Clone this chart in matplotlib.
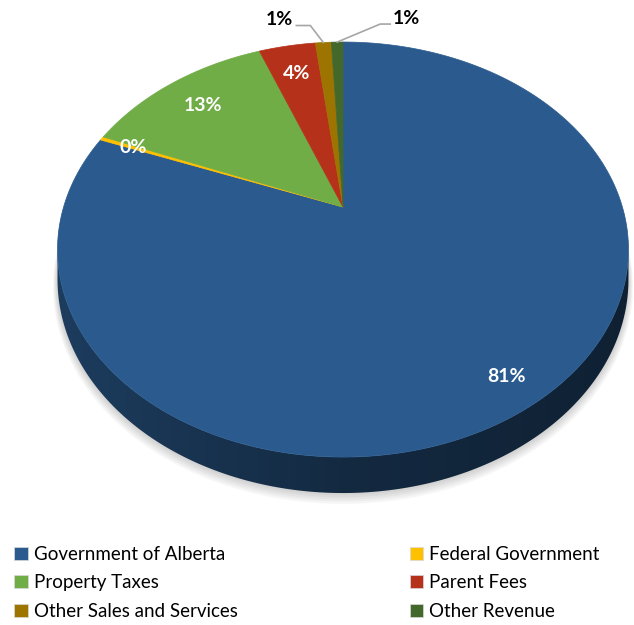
import numpy as np
import matplotlib
matplotlib.use('Agg')
import matplotlib.pyplot as plt
from matplotlib.patches import Polygon, Patch
import matplotlib.colors as mcolors

plt.rcParams['font.family'] = ['Lato', 'DejaVu Sans']

# data (share of revenue, %)
categories = ['Government of Alberta', 'Federal Government', 'Property Taxes',
              'Parent Fees', 'Other Sales and Services', 'Other Revenue']
values = [80.9, 0.3, 13.0, 3.9, 1.1, 0.8]
colors = ['#2B5B8E', '#FFC000', '#70AD47', '#B5311A', '#9E7400', '#43682B']
pct_labels = ['%.0f%%' % v for v in values]

# 3d look: apex, radii, perspective factor, thickness (pixel space)
cx, cy = 343, 207
C, B, k = 279.4, 198.8, 0.205
d0 = 28.6


def proj(frac, r=1.0, depth=0.0):
    th = 2 * np.pi * np.asarray(frac)
    u = r * np.sin(th)
    v = r * np.cos(th)
    den = 1 + k * v
    return cx + C * u / den, cy - B * v / den + d0 * depth / den


fig = plt.figure(figsize=(6.34, 6.25), dpi=100)
ax = fig.add_axes([0, 0, 1, 1])
ax.set_xlim(0, 634)
ax.set_ylim(625, 0)
ax.axis('off')

fracs = np.array(values) / sum(values)
starts = np.concatenate([[0], np.cumsum(fracs)[:-1]])
ends = np.cumsum(fracs)

# soft shadow under the pie
front0 = np.arccos(-k) / (2 * np.pi)
front1 = 1 - front0
t = np.linspace(front0 - 0.03, front1 + 0.03, 300)
for i in range(6):
    sx, sy = proj(t, 1.0 + 0.003 * i, 1.0)
    tx, ty = proj(t[::-1], 1.0, 0.0)
    ax.add_patch(Polygon(np.column_stack([np.r_[sx, tx], np.r_[sy + 1.2 * i, ty]]),
                         closed=True, facecolor='black', edgecolor='none',
                         alpha=0.035, zorder=1))

# side wall (only the front part is visible), gradient from left to right
for s, e, c in zip(starts, ends, colors):
    a0, a1 = max(s, front0), min(e, front1)
    if a1 <= a0:
        continue
    tt = np.linspace(a0, a1, 300)
    xt, yt = proj(tt)
    xb, yb = proj(tt[::-1], 1.0, 1.0)
    poly = Polygon(np.column_stack([np.r_[xt, xb], np.r_[yt, yb]]), closed=True,
                   facecolor='none', edgecolor='none', zorder=2)
    ax.add_patch(poly)
    base = np.array(mcolors.to_rgb(c))
    xs = np.linspace(0, 634, 400)
    rel = (xs - cx) / C
    shade = np.where(rel < 0, 0.46 - 0.2 * rel, 0.46 - 0.10 * rel)
    grad = (base[None, :] * shade[:, None])[None, :, :]
    im = ax.imshow(grad, extent=[0, 634, 520, 150], aspect='auto', zorder=2,
                   interpolation='bilinear')
    im.set_clip_path(poly)

# top face
for s, e, c in zip(starts, ends, colors):
    tt = np.linspace(s, e, max(int((e - s) * 720), 2))
    x, y = proj(tt)
    ax.add_patch(Polygon(np.column_stack([np.r_[cx, x], np.r_[cy, y]]),
                         closed=True, facecolor=c, edgecolor=c,
                         linewidth=0.5, zorder=3))
ax.set_xlim(0, 634)
ax.set_ylim(625, 0)

# labels inside the slices
inside_r = [0.88, 0.86, 0.8, 0.8]
for i, r in enumerate(inside_r):
    lx, ly = proj((starts[i] + ends[i]) / 2, r)
    ax.text(lx, ly, pct_labels[i], color='white', fontsize=14, fontweight='bold',
            ha='center', va='center', zorder=5)

# small slices with leader lines: (elbow dx, elbow dy, horizontal run)
leaders = {4: (-13, -17, -14), 5: (43, -18, 10)}
for i, (ex_, ey_, run) in leaders.items():
    ax0, ay0 = proj((starts[i] + ends[i]) / 2, 1.0)
    bx, by = ax0 + ex_, ay0 + ey_
    px = bx + run
    ax.plot([ax0, bx, px], [ay0, by, by], color='#A6A6A6', linewidth=1.2, zorder=4)
    left = run < 0
    ax.text(px + (-3 if left else 3), by - 6, pct_labels[i], color='black',
            fontsize=14, fontweight='bold', ha='right' if left else 'left',
            va='center', zorder=5)

handles = [Patch(facecolor=c, edgecolor='#D9D9D9', linewidth=0.5) for c in colors]
order = [0, 2, 4, 1, 3, 5]
fig.legend([handles[i] for i in order], [categories[i] for i in order],
           loc='upper left', bbox_to_anchor=(0.011, 0.139), ncol=2, frameon=False,
           fontsize=13.5, handlelength=0.7, handleheight=0.7, handletextpad=0.32,
           labelspacing=0.62, columnspacing=9.2, borderaxespad=0)

fig.savefig('out.png', dpi=100)
